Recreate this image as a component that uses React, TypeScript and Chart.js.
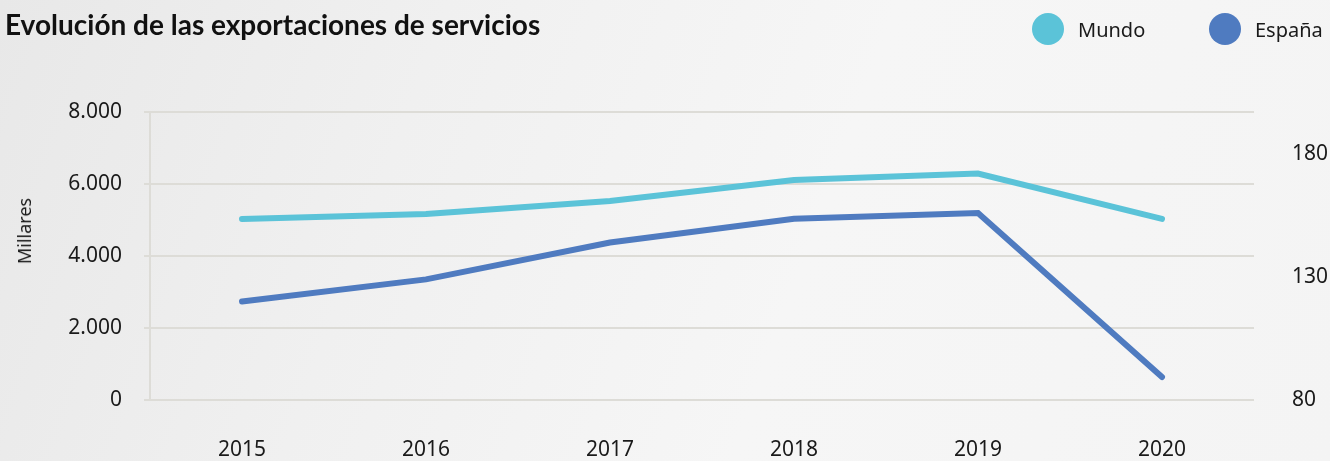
import React, { useEffect, useRef } from "react";
import { Chart, registerables } from "chart.js";

Chart.register(...registerables);

const years = ["2015", "2016", "2017", "2018", "2019", "2020"];
const mundo = [5030, 5170, 5530, 6110, 6290, 5030];
const espana = [120, 129, 144, 153.6, 156, 89.3];
const leftTicks = [0, 2000, 4000, 6000, 8000];
const rightTicks = [80, 130, 180];

const TITLE = "Evolución de las exportaciones de servicios";
const Y_TITLE = "Millares";
const MUNDO_COLOR = "#5bc3d8";
const ESPANA_COLOR = "#4f7bc0";
const GRID = "#dddcd7";
const FONT = "'Noto Sans', sans-serif";

const fmt = (v: number) => String(v).replace(/\B(?=(\d{3})+(?!\d))/g, ".");

export default function App() {
  const ref = useRef<HTMLCanvasElement | null>(null);

  useEffect(() => {
    document.body.style.margin = "0";
    const canvas = ref.current;
    if (!canvas) return;
    const chart = new Chart(canvas, {
      type: "line",
      data: {
        labels: years,
        datasets: [
          {
            label: "Mundo",
            data: mundo,
            yAxisID: "y",
            borderColor: MUNDO_COLOR,
            backgroundColor: MUNDO_COLOR,
            borderWidth: 6,
            borderCapStyle: "round",
            pointRadius: 0,
            tension: 0,
          },
          {
            label: "España",
            data: espana,
            yAxisID: "y1",
            borderColor: ESPANA_COLOR,
            backgroundColor: ESPANA_COLOR,
            borderWidth: 6,
            borderCapStyle: "round",
            pointRadius: 0,
            tension: 0,
          },
        ],
      },
      options: {
        responsive: false,
        animation: false,
        layout: { padding: { top: 112, left: 10, right: 0, bottom: 0 } },
        plugins: { legend: { display: false }, title: { display: false }, tooltip: { enabled: false } },
        scales: {
          x: {
            offset: true,
            afterFit: (s: any) => {
              s.height = 61;
            },
            grid: { display: false },
            border: { display: false },
            ticks: { padding: 29, color: "#1a1a1a", font: { family: FONT, size: 21 } },
          },
          y: {
            position: "left",
            min: 0,
            max: 8000,
            afterBuildTicks: (s: any) => {
              s.ticks = leftTicks.map((v) => ({ value: v }));
            },
            afterFit: (s: any) => {
              s.width = 140;
            },
            grid: { color: GRID, lineWidth: 2, tickLength: 6 },
            border: { display: true, color: GRID, width: 2 },
            ticks: {
              padding: 22,
              color: "#1a1a1a",
              font: { family: FONT, size: 21 },
              callback: (v: any) => fmt(Number(v)),
            },
          },
          y1: {
            position: "right",
            min: 80,
            max: 197,
            afterBuildTicks: (s: any) => {
              s.ticks = rightTicks.map((v) => ({ value: v }));
            },
            afterFit: (s: any) => {
              s.width = 76;
            },
            grid: { display: false },
            border: { display: false },
            ticks: {
              padding: 30,
              color: "#1a1a1a",
              font: { family: FONT, size: 21 },
            },
          },
        },
      },
    });
    return () => chart.destroy();
  }, []);

  const legendItem = (label: string, color: string, cx: number) => (
    <div style={{ position: "absolute", left: cx - 16, top: 13, height: 32, display: "flex", alignItems: "center" }}>
      <span style={{ width: 32, height: 32, borderRadius: 16, background: color, display: "inline-block" }} />
      <span style={{ marginLeft: 14, fontFamily: FONT, fontSize: 20, color: "#1a1a1a" }}>{label}</span>
    </div>
  );

  return (
    <div
      style={{
        position: "absolute",
        left: 0,
        top: 0,
        width: 1330,
        height: 461,
        overflow: "hidden",
        background: "linear-gradient(110deg, #e8e8e8 0%, #f0f0f0 30%, #f6f6f6 60%, #f4f4f4 100%)",
      }}
    >
      <canvas ref={ref} width={1330} height={461} style={{ position: "absolute", left: 0, top: 0 }} />
      <div
        style={{
          position: "absolute",
          left: 5,
          top: 7,
          lineHeight: "34px",
          fontFamily: "Lato, sans-serif",
          fontWeight: 700,
          fontSize: 28,
          color: "#111",
          whiteSpace: "nowrap",
        }}
      >
        {TITLE}
      </div>
      {legendItem("Mundo", MUNDO_COLOR, 1048)}
      {legendItem("España", ESPANA_COLOR, 1225)}
      <div
        style={{
          position: "absolute",
          left: 24,
          top: 231,
          transform: "translate(-50%, -50%) rotate(-90deg)",
          fontFamily: FONT,
          fontSize: 18,
          color: "#1a1a1a",
          whiteSpace: "nowrap",
        }}
      >
        {Y_TITLE}
      </div>
    </div>
  );
}
